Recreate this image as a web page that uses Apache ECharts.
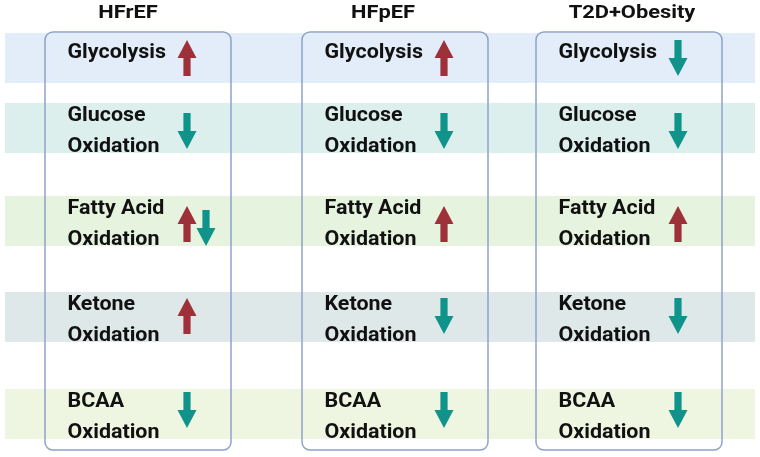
<!DOCTYPE html>
<html>
<head>
<meta charset="utf-8">
<script src="https://cdn.jsdelivr.net/npm/echarts@6/dist/echarts.min.js"></script>
<style>
  html, body { margin: 0; padding: 0; background: #fff; }
  #chart { width: 760px; height: 457px; }
</style>
</head>
<body>
<div id="chart"></div>
<script>
// data
const conditions = ['HFrEF', 'HFpEF', 'T2D+Obesity']
const pathways = [
  ['Glycolysis'],
  ['Glucose', 'Oxidation'],
  ['Fatty Acid', 'Oxidation'],
  ['Ketone', 'Oxidation'],
  ['BCAA', 'Oxidation']
]
// change per pathway: 1 = up, -1 = down
const hfrefChange = [[1], [-1], [1, -1], [1], [-1]]
const hfpefChange = [[1], [-1], [1], [-1], [-1]]
const t2dChange = [[-1], [-1], [1], [-1], [-1]]
const changes = [hfrefChange, hfpefChange, t2dChange]

// layout (pixel space of the grid)
const boxLeft = [45, 302, 536]
const boxWidth = 186
const boxTop = 32
const boxBottom = 450
const titleX = [128, 383, 632]
const bandTop = [33, 103, 196, 292, 389]
const bandHeight = 50
const arrowY = [58, 131, 224, 316, 410]
const bandColors = ['#e3edf9', '#dcefec', '#e5f3df', '#dfe8e8', '#eef5e1']
const UP = '#9e3039'
const DOWN = '#0f938a'
const FONT = 'Roboto, "Liberation Sans", Arial, sans-serif'

let arrowData = []
changes.forEach((col, c) => {
  col.forEach((dirs, r) => {
    dirs.forEach((d, k) => arrowData.push([c, r, d, k]))
  })
})

let myChart = echarts.init(document.getElementById('chart'))
let options = {
  animation: false,
  grid: { left: 0, right: 0, top: 0, bottom: 0 },
  xAxis: { type: 'value', min: 0, max: 760, show: false },
  yAxis: { type: 'value', min: 0, max: 457, inverse: true, show: false },
  series: [
    {
      type: 'custom',
      z: 1,
      data: pathways.map((p, i) => [i]),
      renderItem (params, api) {
        let i = api.value(0)
        let p0 = api.coord([5, bandTop[i]])
        let p1 = api.coord([755, bandTop[i] + bandHeight])
        return {
          type: 'rect',
          shape: { x: p0[0], y: p0[1], width: p1[0] - p0[0], height: p1[1] - p0[1] },
          style: { fill: bandColors[i] }
        }
      }
    },
    {
      type: 'custom',
      z: 2,
      data: conditions.map((c, i) => [i]),
      renderItem (params, api) {
        let i = api.value(0)
        let p0 = api.coord([boxLeft[i], boxTop])
        let p1 = api.coord([boxLeft[i] + boxWidth, boxBottom])
        let t = api.coord([titleX[i], 13])
        return {
          type: 'group',
          children: [
            {
              type: 'rect',
              shape: { x: p0[0], y: p0[1], width: p1[0] - p0[0], height: p1[1] - p0[1], r: 8 },
              style: { fill: 'none', stroke: '#8ea2c9', lineWidth: 1.5 }
            },
            {
              type: 'text',
              x: t[0],
              y: t[1],
              scaleX: 1.15,
              style: {
                x: 0, y: 0, text: conditions[i],
                font: 'bold 19px ' + FONT, fill: '#111',
                align: 'center', verticalAlign: 'middle'
              }
            }
          ]
        }
      }
    },
    {
      type: 'custom',
      z: 3,
      data: conditions.flatMap((c, ci) => pathways.map((p, pi) => [ci, pi])),
      renderItem (params, api) {
        let c = api.value(0)
        let r = api.value(1)
        let lines = pathways[r]
        let ys = lines.length === 1 ? [bandTop[r] + 20.5] : [bandTop[r] + 13.5, bandTop[r] + 44.5]
        return {
          type: 'group',
          children: lines.map((txt, k) => {
            let pt = api.coord([boxLeft[c] + 22.5, ys[k]])
            return {
              type: 'text',
              x: pt[0],
              y: pt[1],
              scaleX: 1.1,
              style: {
                x: 0, y: 0, text: txt,
                font: 'bold 19.5px ' + FONT, fill: '#111',
                align: 'left', verticalAlign: 'middle'
              }
            }
          })
        }
      }
    },
    {
      type: 'custom',
      z: 4,
      data: arrowData,
      renderItem (params, api) {
        let c = api.value(0)
        let r = api.value(1)
        let d = api.value(2)
        let k = api.value(3)
        let ctr = api.coord([boxLeft[c] + 142 + k * 19, arrowY[r]])
        let x = ctr[0]
        let y = ctr[1] + (k ? 4 : 0)
        let s = -d // up: tip at negative y
        let pts = [
          [x, y + s * 18],
          [x + 9.5, y],
          [x + 3.6, y],
          [x + 3.6, y - s * 18],
          [x - 3.6, y - s * 18],
          [x - 3.6, y],
          [x - 9.5, y]
        ]
        return {
          type: 'polygon',
          shape: { points: pts },
          style: { fill: d > 0 ? UP : DOWN }
        }
      }
    }
  ]
}
myChart.setOption(options)
</script>
</body>
</html>
